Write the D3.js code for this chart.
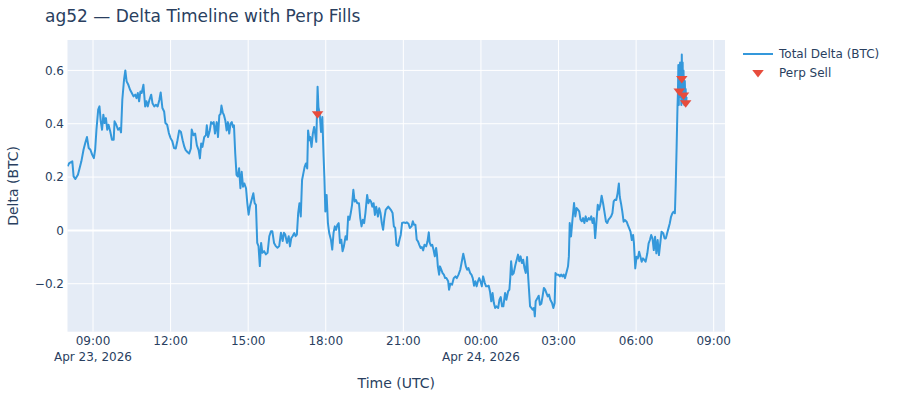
<!DOCTYPE html>
<html><head><meta charset="utf-8">
<script src="https://cdn.jsdelivr.net/npm/d3@7"></script>
<style>body{margin:0;background:#fff}svg{display:block;font-family:"DejaVu Sans",Verdana,sans-serif}</style>
</head><body><svg id="chart" width="900" height="400"></svg>
<script>
// ---- data ----
const times = [
"2026-04-23 08:01","2026-04-23 08:05","2026-04-23 08:12","2026-04-23 08:15","2026-04-23 08:19","2026-04-23 08:25","2026-04-23 08:28","2026-04-23 08:33","2026-04-23 08:38","2026-04-23 08:42",
"2026-04-23 08:46","2026-04-23 08:50","2026-04-23 08:54","2026-04-23 08:58","2026-04-23 09:02","2026-04-23 09:05","2026-04-23 09:08","2026-04-23 09:12","2026-04-23 09:15","2026-04-23 09:18",
"2026-04-23 09:21","2026-04-23 09:24","2026-04-23 09:27","2026-04-23 09:30","2026-04-23 09:33","2026-04-23 09:36","2026-04-23 09:40","2026-04-23 09:44","2026-04-23 09:48","2026-04-23 09:50",
"2026-04-23 09:54","2026-04-23 09:58","2026-04-23 10:02","2026-04-23 10:05","2026-04-23 10:08","2026-04-23 10:12","2026-04-23 10:15","2026-04-23 10:18","2026-04-23 10:22","2026-04-23 10:26",
"2026-04-23 10:30","2026-04-23 10:34","2026-04-23 10:38","2026-04-23 10:41","2026-04-23 10:44","2026-04-23 10:47","2026-04-23 10:50","2026-04-23 10:53","2026-04-23 10:57","2026-04-23 11:01",
"2026-04-23 11:04","2026-04-23 11:07","2026-04-23 11:11","2026-04-23 11:15","2026-04-23 11:18","2026-04-23 11:22","2026-04-23 11:26","2026-04-23 11:30","2026-04-23 11:34","2026-04-23 11:37",
"2026-04-23 11:41","2026-04-23 11:45","2026-04-23 11:48","2026-04-23 11:52","2026-04-23 11:56","2026-04-23 12:00","2026-04-23 12:04","2026-04-23 12:08","2026-04-23 12:12","2026-04-23 12:16",
"2026-04-23 12:20","2026-04-23 12:24","2026-04-23 12:28","2026-04-23 12:32","2026-04-23 12:35","2026-04-23 12:39","2026-04-23 12:43","2026-04-23 12:47","2026-04-23 12:49","2026-04-23 12:53",
"2026-04-23 12:57","2026-04-23 13:01","2026-04-23 13:05","2026-04-23 13:08","2026-04-23 13:11","2026-04-23 13:14","2026-04-23 13:18","2026-04-23 13:22","2026-04-23 13:24","2026-04-23 13:27",
"2026-04-23 13:31","2026-04-23 13:34","2026-04-23 13:37","2026-04-23 13:40","2026-04-23 13:43","2026-04-23 13:47","2026-04-23 13:50","2026-04-23 13:53","2026-04-23 13:56","2026-04-23 13:58",
"2026-04-23 14:01","2026-04-23 14:04","2026-04-23 14:07","2026-04-23 14:10","2026-04-23 14:13","2026-04-23 14:16","2026-04-23 14:19","2026-04-23 14:22","2026-04-23 14:25","2026-04-23 14:27",
"2026-04-23 14:30","2026-04-23 14:33","2026-04-23 14:36","2026-04-23 14:39","2026-04-23 14:42","2026-04-23 14:45","2026-04-23 14:48","2026-04-23 14:51","2026-04-23 14:55","2026-04-23 14:58",
"2026-04-23 15:01","2026-04-23 15:04","2026-04-23 15:08","2026-04-23 15:12","2026-04-23 15:15","2026-04-23 15:18","2026-04-23 15:21","2026-04-23 15:24","2026-04-23 15:27","2026-04-23 15:30",
"2026-04-23 15:33","2026-04-23 15:37","2026-04-23 15:41","2026-04-23 15:45","2026-04-23 15:49","2026-04-23 15:53","2026-04-23 15:56","2026-04-23 16:00","2026-04-23 16:04","2026-04-23 16:08",
"2026-04-23 16:12","2026-04-23 16:16","2026-04-23 16:20","2026-04-23 16:23","2026-04-23 16:26","2026-04-23 16:30","2026-04-23 16:34","2026-04-23 16:37","2026-04-23 16:40","2026-04-23 16:43",
"2026-04-23 16:47","2026-04-23 16:50","2026-04-23 16:53","2026-04-23 16:56","2026-04-23 16:59","2026-04-23 17:02","2026-04-23 17:05","2026-04-23 17:08","2026-04-23 17:11","2026-04-23 17:14",
"2026-04-23 17:17","2026-04-23 17:19","2026-04-23 17:22","2026-04-23 17:24","2026-04-23 17:27","2026-04-23 17:30","2026-04-23 17:33","2026-04-23 17:36","2026-04-23 17:38","2026-04-23 17:41",
"2026-04-23 17:43","2026-04-23 17:46","2026-04-23 17:49","2026-04-23 17:52","2026-04-23 17:55","2026-04-23 17:57","2026-04-23 17:59","2026-04-23 18:02","2026-04-23 18:05","2026-04-23 18:08",
"2026-04-23 18:12","2026-04-23 18:15","2026-04-23 18:18","2026-04-23 18:21","2026-04-23 18:24","2026-04-23 18:27","2026-04-23 18:30","2026-04-23 18:33","2026-04-23 18:36","2026-04-23 18:39",
"2026-04-23 18:42","2026-04-23 18:46","2026-04-23 18:49","2026-04-23 18:52","2026-04-23 18:55","2026-04-23 18:58","2026-04-23 19:01","2026-04-23 19:04","2026-04-23 19:07","2026-04-23 19:10",
"2026-04-23 19:13","2026-04-23 19:17","2026-04-23 19:20","2026-04-23 19:23","2026-04-23 19:26","2026-04-23 19:29","2026-04-23 19:32","2026-04-23 19:36","2026-04-23 19:39","2026-04-23 19:42",
"2026-04-23 19:45","2026-04-23 19:48","2026-04-23 19:51","2026-04-23 19:54","2026-04-23 19:57","2026-04-23 20:01","2026-04-23 20:04","2026-04-23 20:07","2026-04-23 20:10","2026-04-23 20:13",
"2026-04-23 20:16","2026-04-23 20:19","2026-04-23 20:22","2026-04-23 20:25","2026-04-23 20:28","2026-04-23 20:31","2026-04-23 20:35","2026-04-23 20:38","2026-04-23 20:41","2026-04-23 20:44",
"2026-04-23 20:48","2026-04-23 20:51","2026-04-23 20:54","2026-04-23 20:57","2026-04-23 21:01","2026-04-23 21:05","2026-04-23 21:08","2026-04-23 21:12","2026-04-23 21:15","2026-04-23 21:19",
"2026-04-23 21:22","2026-04-23 21:25","2026-04-23 21:28","2026-04-23 21:31","2026-04-23 21:34","2026-04-23 21:37","2026-04-23 21:40","2026-04-23 21:43","2026-04-23 21:46","2026-04-23 21:49",
"2026-04-23 21:53","2026-04-23 21:56","2026-04-23 21:59","2026-04-23 22:01","2026-04-23 22:04","2026-04-23 22:07","2026-04-23 22:10","2026-04-23 22:13","2026-04-23 22:16","2026-04-23 22:18",
"2026-04-23 22:20","2026-04-23 22:23","2026-04-23 22:25","2026-04-23 22:28","2026-04-23 22:31","2026-04-23 22:34","2026-04-23 22:37","2026-04-23 22:40","2026-04-23 22:44","2026-04-23 22:46",
"2026-04-23 22:49","2026-04-23 22:53","2026-04-23 22:57","2026-04-23 23:01","2026-04-23 23:04","2026-04-23 23:08","2026-04-23 23:12","2026-04-23 23:15","2026-04-23 23:19","2026-04-23 23:22",
"2026-04-23 23:25","2026-04-23 23:28","2026-04-23 23:31","2026-04-23 23:35","2026-04-23 23:38","2026-04-23 23:41","2026-04-23 23:44","2026-04-23 23:47","2026-04-23 23:50","2026-04-23 23:53",
"2026-04-23 23:56","2026-04-23 23:59","2026-04-24 00:02","2026-04-24 00:05","2026-04-24 00:09","2026-04-24 00:12","2026-04-24 00:15","2026-04-24 00:18","2026-04-24 00:21","2026-04-24 00:24",
"2026-04-24 00:27","2026-04-24 00:30","2026-04-24 00:33","2026-04-24 00:36","2026-04-24 00:40","2026-04-24 00:43","2026-04-24 00:46","2026-04-24 00:49","2026-04-24 00:52","2026-04-24 00:56",
"2026-04-24 00:59","2026-04-24 01:03","2026-04-24 01:06","2026-04-24 01:08","2026-04-24 01:10","2026-04-24 01:13","2026-04-24 01:16","2026-04-24 01:20","2026-04-24 01:23","2026-04-24 01:26",
"2026-04-24 01:29","2026-04-24 01:32","2026-04-24 01:35","2026-04-24 01:38","2026-04-24 01:41","2026-04-24 01:44","2026-04-24 01:47","2026-04-24 01:50","2026-04-24 01:54","2026-04-24 01:57",
"2026-04-24 02:00","2026-04-24 02:03","2026-04-24 02:05","2026-04-24 02:07","2026-04-24 02:11","2026-04-24 02:14","2026-04-24 02:17","2026-04-24 02:20","2026-04-24 02:23","2026-04-24 02:26",
"2026-04-24 02:29","2026-04-24 02:32","2026-04-24 02:35","2026-04-24 02:38","2026-04-24 02:41","2026-04-24 02:45","2026-04-24 02:48","2026-04-24 02:51","2026-04-24 02:53","2026-04-24 02:56",
"2026-04-24 03:00","2026-04-24 03:03","2026-04-24 03:06","2026-04-24 03:09","2026-04-24 03:12","2026-04-24 03:15","2026-04-24 03:19","2026-04-24 03:22","2026-04-24 03:24","2026-04-24 03:26",
"2026-04-24 03:29","2026-04-24 03:32","2026-04-24 03:36","2026-04-24 03:39","2026-04-24 03:42","2026-04-24 03:45","2026-04-24 03:48","2026-04-24 03:51","2026-04-24 03:54","2026-04-24 03:57",
"2026-04-24 04:00","2026-04-24 04:03","2026-04-24 04:06","2026-04-24 04:10","2026-04-24 04:13","2026-04-24 04:16","2026-04-24 04:19","2026-04-24 04:22","2026-04-24 04:25","2026-04-24 04:28",
"2026-04-24 04:31","2026-04-24 04:34","2026-04-24 04:37","2026-04-24 04:40","2026-04-24 04:44","2026-04-24 04:47","2026-04-24 04:50","2026-04-24 04:53","2026-04-24 04:56","2026-04-24 04:59",
"2026-04-24 05:02","2026-04-24 05:05","2026-04-24 05:08","2026-04-24 05:11","2026-04-24 05:14","2026-04-24 05:17","2026-04-24 05:20","2026-04-24 05:22","2026-04-24 05:25","2026-04-24 05:28",
"2026-04-24 05:31","2026-04-24 05:34","2026-04-24 05:38","2026-04-24 05:41","2026-04-24 05:44","2026-04-24 05:47","2026-04-24 05:50","2026-04-24 05:53","2026-04-24 05:55","2026-04-24 05:58",
"2026-04-24 06:01","2026-04-24 06:04","2026-04-24 06:07","2026-04-24 06:10","2026-04-24 06:13","2026-04-24 06:16","2026-04-24 06:19","2026-04-24 06:22","2026-04-24 06:26","2026-04-24 06:29",
"2026-04-24 06:32","2026-04-24 06:35","2026-04-24 06:38","2026-04-24 06:41","2026-04-24 06:44","2026-04-24 06:47","2026-04-24 06:50","2026-04-24 06:53","2026-04-24 06:56","2026-04-24 06:59",
"2026-04-24 07:03","2026-04-24 07:06","2026-04-24 07:09","2026-04-24 07:12","2026-04-24 07:15","2026-04-24 07:18","2026-04-24 07:21","2026-04-24 07:24","2026-04-24 07:27","2026-04-24 07:30",
"2026-04-24 07:32","2026-04-24 07:34","2026-04-24 07:36","2026-04-24 07:37","2026-04-24 07:38","2026-04-24 07:39","2026-04-24 07:40","2026-04-24 07:41","2026-04-24 07:42","2026-04-24 07:43",
"2026-04-24 07:44","2026-04-24 07:45","2026-04-24 07:46","2026-04-24 07:47","2026-04-24 07:48","2026-04-24 07:49","2026-04-24 07:50","2026-04-24 07:51","2026-04-24 07:52","2026-04-24 07:53",
"2026-04-24 07:54","2026-04-24 07:55","2026-04-24 07:56","2026-04-24 07:57"
];
const delta = [
0.240,0.2525,0.259,0.2025,0.1925,0.209,0.2275,0.259,0.3025,0.3275,
0.35,0.309,0.3025,0.284,0.271,0.3025,0.3775,0.4525,0.465,0.409,
0.3775,0.434,0.4025,0.421,0.3775,0.396,0.371,0.34,0.34,0.409,
0.396,0.3775,0.384,0.3675,0.49,0.565,0.60,0.559,0.546,0.5275,
0.515,0.5025,0.509,0.496,0.515,0.484,0.521,0.515,0.546,0.465,
0.484,0.465,0.49,0.509,0.477,0.465,0.471,0.465,0.49,0.5175,
0.459,0.446,0.4025,0.396,0.365,0.346,0.334,0.309,0.307,0.338,
0.375,0.369,0.338,0.313,0.301,0.294,0.288,0.307,0.378,0.357,
0.363,0.319,0.301,0.27,0.326,0.313,0.35,0.357,0.394,0.35,
0.375,0.406,0.40,0.406,0.363,0.406,0.35,0.431,0.437,0.468,
0.443,0.431,0.412,0.375,0.406,0.363,0.40,0.406,0.387,0.394,
0.288,0.208,0.202,0.233,0.158,0.22,0.164,0.176,0.158,0.102,
0.059,0.09,0.115,0.139,0.102,0.096,-0.047,-0.059,-0.134,-0.047,
-0.084,-0.078,-0.09,-0.084,-0.022,-0.003,-0.003,-0.047,-0.059,-0.065,
-0.059,-0.009,-0.040,-0.009,-0.016,-0.047,-0.022,-0.06,-0.029,-0.022,
-0.01,-0.022,-0.016,0.065,0.102,0.052,0.189,0.214,0.238,0.251,
0.232,0.375,0.338,0.35,0.313,0.363,0.388,0.356,0.332,0.539,
0.462,0.437,0.369,0.425,0.276,0.189,0.071,0.133,0.027,-0.01,
-0.035,-0.072,-0.01,0.015,0.002,0.021,0.027,-0.047,-0.035,-0.078,
-0.06,-0.022,-0.035,0.052,0.04,0.065,0.096,0.152,0.108,0.114,
0.102,0.102,0.046,0.015,0.04,0.027,0.065,0.133,0.102,0.114,
0.108,0.089,0.102,0.058,0.089,0.052,0.083,0.065,0.027,0.002,
0.046,0.077,0.083,0.089,0.083,0.077,0.065,0.015,0.009,-0.054,
-0.058,-0.035,-0.016,0.0275,0.03,0.0275,0.03,0.025,0.009,0.015,
0.034,0.021,0.021,-0.035,-0.041,-0.054,-0.066,-0.0625,-0.075,-0.054,
-0.06,-0.041,-0.0075,-0.045,-0.0575,-0.054,-0.0725,-0.0975,-0.066,-0.091,
-0.135,-0.166,-0.135,-0.1475,-0.16,-0.166,-0.179,-0.179,-0.191,-0.2225,
-0.20,-0.204,-0.179,-0.1725,-0.179,-0.166,-0.1475,-0.1225,-0.0875,-0.11,
-0.135,-0.1475,-0.141,-0.16,-0.166,-0.179,-0.2075,-0.191,-0.21,-0.191,
-0.179,-0.191,-0.21,-0.1725,-0.1975,-0.21,-0.21,-0.2075,-0.229,-0.266,
-0.235,-0.2725,-0.291,-0.285,-0.291,-0.26,-0.25,-0.285,-0.285,-0.235,
-0.26,-0.229,-0.2225,-0.179,-0.116,-0.166,-0.16,-0.129,-0.11,-0.091,
-0.116,-0.0975,-0.1225,-0.11,-0.141,-0.16,-0.10,-0.185,-0.285,-0.291,
-0.2975,-0.291,-0.3225,-0.266,-0.254,-0.245,-0.279,-0.275,-0.2475,-0.216,
-0.2225,-0.235,-0.2475,-0.241,-0.26,-0.2725,-0.291,-0.2725,-0.16,-0.166,
-0.166,-0.1725,-0.166,-0.1725,-0.166,-0.179,-0.154,-0.135,-0.0975,0.0275,
-0.0225,0.034,0.1025,0.0525,0.084,0.0775,0.071,0.04,0.034,0.046,
0.0275,0.0525,0.034,0.046,0.04,0.0525,0.0275,0.046,-0.029,0.034,
0.096,0.0775,0.096,0.13,0.096,0.065,0.034,0.0275,0.04,0.046,
0.0525,0.065,0.109,0.115,0.114,0.139,0.176,0.126,0.101,0.07,
0.0325,0.039,0.0325,0.02,0.0075,-0.005,-0.036,-0.0175,-0.049,-0.1425,
-0.099,-0.105,-0.08,-0.099,-0.1175,-0.105,-0.111,-0.1175,-0.086,-0.049,
-0.036,-0.0175,-0.03,-0.074,-0.024,-0.086,-0.036,-0.0925,-0.049,-0.005,
-0.011,-0.03,-0.03,-0.011,0.0075,0.026,0.051,0.064,0.07,0.064,
0.176,0.314,0.464,0.514,0.62,0.47,0.60,0.50,0.63,0.52,
0.58,0.47,0.66,0.50,0.63,0.48,0.60,0.52,0.47,0.56,
0.49,0.53,0.47,0.50
];
const perpTimes = ["2026-04-23 17:41","2026-04-24 07:40","2026-04-24 07:46","2026-04-24 07:50","2026-04-24 07:55"];
const perpDelta = [0.437,0.5225,0.57,0.5075,0.479];
const yTicks = [-0.2, 0, 0.2, 0.4, 0.6];
const xRange = ["2026-04-23 08:00:50","2026-04-24 09:26:13"];
const yRange = [-0.380, 0.714];
const seriesNames = ["Total Delta (BTC)", "Perp Sell"];
const titleText = "ag52 \u2014 Delta Timeline with Perp Fills";
const xTitle = "Time (UTC)", yTitle = "Delta (BTC)";

// ---- drawing ----
const parseM = d3.utcParse("%Y-%m-%d %H:%M");
const parseS = d3.utcParse("%Y-%m-%d %H:%M:%S");
const svg = d3.select("#chart");
const L = 67.5, R = 725, T = 40, B = 331.7;
const txt = "#2a3f5f", lineColor = "#3498db", mColor = "#e74c3c";

const x = d3.scaleUtc().domain(xRange.map(parseS)).range([L, R]);
const y = d3.scaleLinear().domain(yRange).range([B, T]);

svg.append("rect").attr("x", L).attr("y", T).attr("width", R - L).attr("height", B - T).attr("fill", "#e5ecf6");

const xTicks = x.ticks(d3.utcHour.every(3));
const grid = svg.append("g");
grid.selectAll(".vx").data(xTicks).join("line")
  .attr("x1", d => x(d)).attr("x2", d => x(d)).attr("y1", T).attr("y2", B)
  .attr("stroke", "#fff").attr("stroke-width", 1);
grid.selectAll(".hy").data(yTicks).join("line")
  .attr("x1", L).attr("x2", R).attr("y1", d => y(d)).attr("y2", d => y(d))
  .attr("stroke", "#fff").attr("stroke-width", d => d === 0 ? 2 : 1);

svg.append("defs").append("clipPath").attr("id", "clip")
  .append("rect").attr("x", L).attr("y", T).attr("width", R - L).attr("height", B - T);

const pts = times.map((t, i) => [parseM(t), delta[i]]);
svg.append("path").datum(pts)
  .attr("clip-path", "url(#clip)")
  .attr("fill", "none").attr("stroke", lineColor).attr("stroke-width", 2)
  .attr("stroke-linejoin", "round")
  .attr("d", d3.line().x(d => x(d[0])).y(d => y(d[1])));

const tri = "M-5.77,-2.5H5.77L0,5Z";
svg.append("g").selectAll("path").data(perpTimes.map((t, i) => [parseM(t), perpDelta[i]])).join("path")
  .attr("d", tri).attr("fill", mColor)
  .attr("transform", d => `translate(${x(d[0])},${y(d[1])})`);

// y tick labels
const yfmt = v => v === 0 ? "0" : d3.format(".1f")(v);
svg.append("g").selectAll("text").data(yTicks).join("text")
  .attr("x", 64).attr("y", d => y(d)).attr("dy", "0.36em")
  .attr("text-anchor", "end").attr("font-size", 12).attr("fill", txt)
  .text(yfmt);

// x tick labels
const hm = d3.utcFormat("%H:%M"), dayf = d3.utcFormat("%b %d, %Y");
const xl = svg.append("g").selectAll("text").data(xTicks).join("text")
  .attr("x", d => x(d)).attr("y", 345)
  .attr("text-anchor", "middle").attr("font-size", 12).attr("fill", txt);
xl.append("tspan").attr("x", d => x(d)).text(hm);
xl.filter((d, i) => i === 0 || (d.getUTCHours() === 0))
  .append("tspan").attr("x", d => x(d)).attr("dy", 16).text(dayf);

// titles
svg.append("text").attr("x", 45).attr("y", 22).attr("font-size", 17).attr("fill", txt).text(titleText);
svg.append("text").attr("x", (L + R) / 2).attr("y", 387.5).attr("text-anchor", "middle")
  .attr("font-size", 14).attr("fill", txt).text(xTitle);
svg.append("text").attr("transform", `translate(17.5,${(T + B) / 2}) rotate(-90)`)
  .attr("text-anchor", "middle").attr("font-size", 14).attr("fill", txt).text(yTitle);

// legend
const lg = svg.append("g");
lg.append("line").attr("x1", 743).attr("x2", 773).attr("y1", 54).attr("y2", 54)
  .attr("stroke", lineColor).attr("stroke-width", 2);
lg.append("path").attr("d", tri).attr("fill", mColor).attr("transform", "translate(758,72.5)");
lg.selectAll("text").data(seriesNames).join("text")
  .attr("x", 779).attr("y", (d, i) => 54 + i * 19).attr("dy", "0.36em")
  .attr("font-size", 12).attr("fill", txt).text(d => d);
</script></body></html>
